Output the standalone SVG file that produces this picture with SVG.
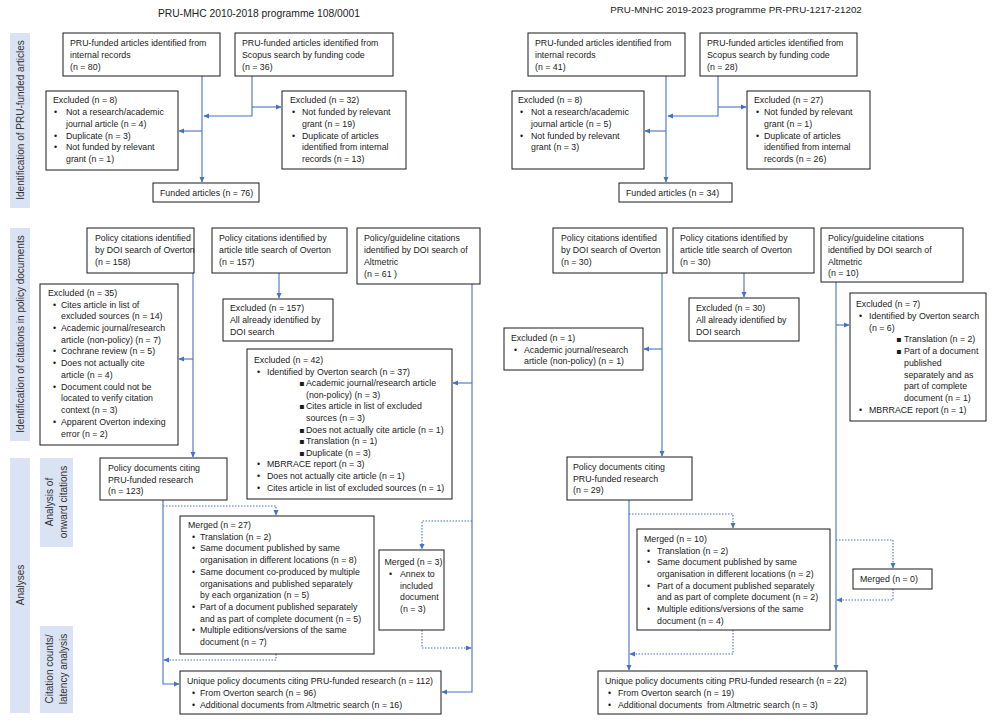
<svg xmlns="http://www.w3.org/2000/svg" width="1000" height="723" viewBox="0 0 1000 723">
<defs>
<style>
text{font-family:"Liberation Sans",Arial,sans-serif;font-size:8.8px;fill:#1a1a1a}
.box{fill:#fff;stroke:#1a1a1a;stroke-width:1}
.bar{fill:#dae3f3}
.lbl{font-size:10px;fill:#333;text-anchor:middle}
.ttl{font-size:10.3px;fill:#222;text-anchor:middle}
.c{fill:none;stroke:#4472c4;stroke-width:1.1}
.d{fill:none;stroke:#4472c4;stroke-width:1.1;stroke-dasharray:1.5 1.5}
.sq{font-family:"DejaVu Sans",sans-serif;font-size:8px}
</style>
<marker id="a" viewBox="0 0 10 10" refX="9" refY="5" markerWidth="6" markerHeight="6" markerUnits="userSpaceOnUse" orient="auto"><path d="M0,0.5 L10,5 L0,9.5z" fill="#4472c4"/></marker>
</defs>
<rect width="1000" height="723" fill="#fff"/>

<g id="titles">
<text class="ttl" x="259" y="17">PRU-MHC 2010-2018 programme 108/0001</text>
<text class="ttl" x="736" y="13" style="font-size:9.8px">PRU-MNHC 2019-2023 programme PR-PRU-1217-21202</text>
</g>

<g id="stage-labels">
<rect class="bar" x="10" y="33" width="20" height="175"/>
<text class="lbl" transform="translate(23.5,120) rotate(-90)">Identification of PRU-funded articles</text>
<rect class="bar" x="10" y="228" width="20" height="213"/>
<text class="lbl" transform="translate(23.5,334) rotate(-90)">Identification of citations in policy documents</text>
<rect class="bar" x="10" y="458" width="20" height="255"/>
<text class="lbl" transform="translate(23.5,585) rotate(-90)">Analyses</text>
<rect class="bar" x="40" y="458" width="33" height="89"/>
<text class="lbl" transform="translate(52.5,502) rotate(-90)">Analysis of</text>
<text class="lbl" transform="translate(66.5,502) rotate(-90)">onward citations</text>
<rect class="bar" x="40" y="626" width="33" height="87"/>
<text class="lbl" transform="translate(52.5,669) rotate(-90)">Citation counts/</text>
<text class="lbl" transform="translate(66.5,669) rotate(-90)">latency analysis</text>
</g>

<g id="connectors" marker-end="url(#a)">
<path class="c" d="M202,76 V182"/>
<path class="c" d="M252,76 V116 H204"/>
<path class="c" d="M252,107 H281"/>
<path class="c" d="M202,131 H179"/>
<path class="c" d="M666,76 V182"/>
<path class="c" d="M718,76 V116 H668"/>
<path class="c" d="M718,107 H746"/>
<path class="c" d="M666,131 H645"/>
<path class="c" d="M193,273 V457"/>
<path class="c" d="M193,359 H179"/>
<path class="c" d="M279,273 V298"/>
<path class="c" d="M472,284 V692 H442"/>
<path class="c" d="M472,383 H453"/>
<path class="d" d="M472,521 H422 V549"/>
<path class="d" d="M422,630 V648 H471"/>
<path class="c" d="M163,500 V684 H179"/>
<path class="d" d="M163,506 H276 V515"/>
<path class="d" d="M276,654 V660 H164"/>
<path class="c" d="M662,273 V456"/>
<path class="c" d="M662,349 H644"/>
<path class="c" d="M744,273 V297"/>
<path class="c" d="M836,282 V670"/>
<path class="c" d="M836,325 H849"/>
<path class="d" d="M836,540 H893 V568"/>
<path class="d" d="M893,589 V600 H837"/>
<path class="c" d="M629,500 V670"/>
<path class="d" d="M629,514 H733 V528"/>
<path class="d" d="M733,630 V654 H630"/>
</g>

<g id="internal-mhc">
<rect class="box" x="63" y="33" width="157" height="43"/>
<text x="70" y="46">PRU-funded articles identified from</text>
<text x="70" y="58">internal records</text>
<text x="70" y="70">(n = 80)</text>
</g>
<g id="scopus-mhc">
<rect class="box" x="235" y="33" width="158" height="43"/>
<text x="242" y="46">PRU-funded articles identified from</text>
<text x="242" y="58">Scopus search by funding code</text>
<text x="242" y="70">(n = 36)</text>
</g>
<g id="excl8-mhc">
<rect class="box" x="46" y="91" width="132" height="79"/>
<text x="53" y="103">Excluded (n = 8)</text>
<text x="54" y="115">•</text><text x="66" y="115">Not a research/academic</text>
<text x="66" y="126.5">journal article (n = 4)</text>
<text x="54" y="138.5">•</text><text x="66" y="138.5">Duplicate (n = 3)</text>
<text x="54" y="150">•</text><text x="66" y="150">Not funded by relevant</text>
<text x="66" y="162">grant (n = 1)</text>
</g>
<g id="excl32-mhc">
<rect class="box" x="282" y="91" width="124" height="78"/>
<text x="290" y="103">Excluded (n = 32)</text>
<text x="292" y="115">•</text><text x="302" y="115">Not funded by relevant</text>
<text x="302" y="126.5">grant (n = 19)</text>
<text x="292" y="138.5">•</text><text x="302" y="138.5">Duplicate of articles</text>
<text x="302" y="150">identified from internal</text>
<text x="302" y="162">records (n = 13)</text>
</g>
<g id="funded-mhc">
<rect class="box" x="153" y="183" width="106" height="19"/>
<text x="160" y="196">Funded articles (n = 76)</text>
</g>

<g id="internal-mnhc">
<rect class="box" x="528" y="33" width="157" height="43"/>
<text x="535" y="46">PRU-funded articles identified from</text>
<text x="535" y="58">internal records</text>
<text x="535" y="70">(n = 41)</text>
</g>
<g id="scopus-mnhc">
<rect class="box" x="700" y="33" width="157" height="43"/>
<text x="707" y="46">PRU-funded articles identified from</text>
<text x="707" y="58">Scopus search by funding code</text>
<text x="707" y="70">(n = 28)</text>
</g>
<g id="excl8-mnhc">
<rect class="box" x="512" y="91" width="132" height="78"/>
<text x="518" y="103">Excluded (n = 8)</text>
<text x="520" y="115">•</text><text x="531" y="115">Not a research/academic</text>
<text x="531" y="126.5">journal article (n = 5)</text>
<text x="520" y="138.5">•</text><text x="531" y="138.5">Not funded by relevant</text>
<text x="531" y="150">grant (n = 3)</text>
</g>
<g id="excl27-mnhc">
<rect class="box" x="747" y="91" width="123" height="78"/>
<text x="754" y="103">Excluded (n = 27)</text>
<text x="756" y="115">•</text><text x="764" y="115">Not funded by relevant</text>
<text x="764" y="126.5">grant (n = 1)</text>
<text x="756" y="138.5">•</text><text x="764" y="138.5">Duplicate of articles</text>
<text x="764" y="150">identified from internal</text>
<text x="764" y="162">records (n = 26)</text>
</g>
<g id="funded-mnhc">
<rect class="box" x="619" y="183" width="113" height="19"/>
<text x="626" y="196">Funded articles (n = 34)</text>
</g>

<g id="doi-overton-mhc">
<rect class="box" x="87" y="228" width="107" height="45"/>
<text x="95" y="241">Policy citations identified</text>
<text x="95" y="253">by DOI search of Overton</text>
<text x="95" y="265">(n = 158)</text>
</g>
<g id="title-overton-mhc">
<rect class="box" x="212" y="228" width="135" height="45"/>
<text x="219" y="241">Policy citations identified by</text>
<text x="219" y="253">article title search of Overton</text>
<text x="219" y="265">(n = 157)</text>
</g>
<g id="altmetric-mhc">
<rect class="box" x="357" y="228" width="123" height="56"/>
<text x="364" y="241">Policy/guideline citations</text>
<text x="364" y="253">identified by DOI search of</text>
<text x="364" y="265">Altmetric</text>
<text x="364" y="277">(n = 61 )</text>
</g>
<g id="excl35-mhc">
<rect class="box" x="40" y="284" width="138" height="161"/>
<text x="48" y="296">Excluded (n = 35)</text>
<text x="53" y="307.5">•</text><text x="61" y="307.5">Cites article in list of</text>
<text x="61" y="319">excluded sources (n = 14)</text>
<text x="53" y="331">•</text><text x="61" y="331">Academic journal/research</text>
<text x="61" y="342.5">article (non-policy) (n = 7)</text>
<text x="53" y="354">•</text><text x="61" y="354">Cochrane review (n = 5)</text>
<text x="53" y="366">•</text><text x="61" y="366">Does not actually cite</text>
<text x="61" y="377.5">article (n = 4)</text>
<text x="53" y="389.5">•</text><text x="61" y="389.5">Document could not be</text>
<text x="61" y="401">located to verify citation</text>
<text x="61" y="413">context (n = 3)</text>
<text x="53" y="424.5">•</text><text x="61" y="424.5">Apparent Overton indexing</text>
<text x="61" y="436.5">error (n = 2)</text>
</g>
<g id="excl157-mhc">
<rect class="box" x="223" y="299" width="110" height="42"/>
<text x="230" y="311">Excluded (n = 157)</text>
<text x="230" y="323">All already identified by</text>
<text x="230" y="335">DOI search</text>
</g>
<g id="excl42-mhc">
<rect class="box" x="247" y="349" width="205" height="150"/>
<text x="254" y="363">Excluded (n = 42)</text>
<text x="257" y="374.6">•</text><text x="267" y="374.6">Identified by Overton search (n = 37)</text>
<text class="sq" x="299" y="386.2">▪</text><text x="306" y="386.2">Academic journal/research article</text>
<text x="306" y="397.8">(non-policy) (n = 3)</text>
<text class="sq" x="299" y="409.4">▪</text><text x="306" y="409.4">Cites article in list of excluded</text>
<text x="306" y="421">sources (n = 3)</text>
<text class="sq" x="299" y="432.6">▪</text><text x="306" y="432.6">Does not actually cite article (n = 1)</text>
<text class="sq" x="299" y="444.2">▪</text><text x="306" y="444.2">Translation (n = 1)</text>
<text class="sq" x="299" y="455.8">▪</text><text x="306" y="455.8">Duplicate (n = 3)</text>
<text x="257" y="467.4">•</text><text x="267" y="467.4">MBRRACE report (n = 3)</text>
<text x="257" y="479">•</text><text x="267" y="479">Does not actually cite article (n = 1)</text>
<text x="257" y="490.6">•</text><text x="267" y="490.6">Cites article in list of excluded sources (n = 1)</text>
</g>
<g id="policydocs-mhc">
<rect class="box" x="100" y="458" width="127" height="42"/>
<text x="108" y="471">Policy documents citing</text>
<text x="108" y="483">PRU-funded research</text>
<text x="108" y="494">(n = 123)</text>
</g>
<g id="merged27-mhc">
<rect class="box" x="180" y="516" width="194" height="138"/>
<text x="188" y="528">Merged (n = 27)</text>
<text x="192" y="539.7">•</text><text x="200" y="539.7">Translation (n = 2)</text>
<text x="192" y="551.4">•</text><text x="200" y="551.4">Same document published by same</text>
<text x="200" y="563.1">organisation in different locations (n = 8)</text>
<text x="192" y="574.8">•</text><text x="200" y="574.8">Same document co-produced by multiple</text>
<text x="200" y="586.5">organisations and published separately</text>
<text x="200" y="598.2">by each organization (n = 5)</text>
<text x="192" y="609.9">•</text><text x="200" y="609.9">Part of a document published separately</text>
<text x="200" y="621.6">and as part of complete document (n = 5)</text>
<text x="192" y="633.3">•</text><text x="200" y="633.3">Multiple editions/versions of the same</text>
<text x="200" y="645">document (n = 7)</text>
</g>
<g id="merged3-mhc">
<rect class="box" x="379" y="550" width="65" height="80"/>
<text x="384.5" y="565">Merged (n = 3)</text>
<text x="389" y="577">•</text><text x="400" y="577">Annex to</text>
<text x="400" y="588.5">included</text>
<text x="400" y="600">document</text>
<text x="400" y="612">(n = 3)</text>
</g>
<g id="unique-mhc">
<rect class="box" x="180" y="671" width="261" height="43"/>
<text x="187" y="684">Unique policy documents citing PRU-funded research (n = 112)</text>
<text x="192" y="696">•</text><text x="200" y="696">From Overton search (n = 96)</text>
<text x="192" y="707.5">•</text><text x="200" y="707.5">Additional documents from Altmetric search (n = 16)</text>
</g>

<g id="doi-overton-mnhc">
<rect class="box" x="553" y="228" width="114" height="45"/>
<text x="561" y="241">Policy citations identified</text>
<text x="561" y="253">by DOI search of Overton</text>
<text x="561" y="265">(n = 30)</text>
</g>
<g id="title-overton-mnhc">
<rect class="box" x="673" y="228" width="141" height="45"/>
<text x="680" y="241">Policy citations identified by</text>
<text x="680" y="253">article title search of Overton</text>
<text x="680" y="265">(n = 30)</text>
</g>
<g id="altmetric-mnhc">
<rect class="box" x="821" y="228" width="142" height="54"/>
<text x="828" y="241">Policy/guideline citations</text>
<text x="828" y="253">identified by DOI search of</text>
<text x="828" y="265">Altmetric</text>
<text x="828" y="276">(n = 10)</text>
</g>
<g id="excl1-mnhc">
<rect class="box" x="504" y="328" width="139" height="42"/>
<text x="511" y="341">Excluded (n = 1)</text>
<text x="514" y="352.5">•</text><text x="524" y="352.5">Academic journal/research</text>
<text x="524" y="364">article (non-policy) (n = 1)</text>
</g>
<g id="excl30-mnhc">
<rect class="box" x="689" y="298" width="110" height="43"/>
<text x="696" y="311">Excluded (n = 30)</text>
<text x="696" y="323">All already identified by</text>
<text x="696" y="335">DOI search</text>
</g>
<g id="excl7-mnhc">
<rect class="box" x="850" y="293" width="136" height="128"/>
<text x="856" y="307">Excluded (n = 7)</text>
<text x="859" y="319">•</text><text x="869" y="319">Identified by Overton search</text>
<text x="869" y="330.5">(n = 6)</text>
<text class="sq" x="896" y="342">▪</text><text x="904" y="342">Translation (n = 2)</text>
<text class="sq" x="896" y="354">▪</text><text x="904" y="354">Part of a document</text>
<text x="904" y="366">published</text>
<text x="904" y="377.5">separately and as</text>
<text x="904" y="389">part of complete</text>
<text x="904" y="401">document (n = 1)</text>
<text x="859" y="412.5">•</text><text x="869" y="412.5">MBRRACE report (n = 1)</text>
</g>
<g id="policydocs-mnhc">
<rect class="box" x="567" y="457" width="125" height="43"/>
<text x="573" y="470">Policy documents citing</text>
<text x="573" y="482">PRU-funded research</text>
<text x="573" y="493">(n = 29)</text>
</g>
<g id="merged10-mnhc">
<rect class="box" x="637" y="529" width="193" height="101"/>
<text x="644" y="542">Merged (n = 10)</text>
<text x="647" y="553.5">•</text><text x="657" y="553.5">Translation (n = 2)</text>
<text x="647" y="565">•</text><text x="657" y="565">Same document published by same</text>
<text x="657" y="577">organisation in different locations (n = 2)</text>
<text x="647" y="588.5">•</text><text x="657" y="588.5">Part of a document published separately</text>
<text x="657" y="600">and as part of complete document (n = 2)</text>
<text x="647" y="612">•</text><text x="657" y="612">Multiple editions/versions of the same</text>
<text x="657" y="623.5">document (n = 4)</text>
</g>
<g id="merged0-mnhc">
<rect class="box" x="853" y="569" width="79" height="20"/>
<text x="860" y="582">Merged (n = 0)</text>
</g>
<g id="unique-mnhc">
<rect class="box" x="598" y="671" width="269" height="43"/>
<text x="605" y="684">Unique policy documents citing PRU-funded research (n = 22)</text>
<text x="608" y="696">•</text><text x="618" y="696">From Overton search (n = 19)</text>
<text x="608" y="707.5">•</text><text x="618" y="707.5" xml:space="preserve">Additional documents  from Altmetric search (n = 3)</text>
</g>
</svg>
